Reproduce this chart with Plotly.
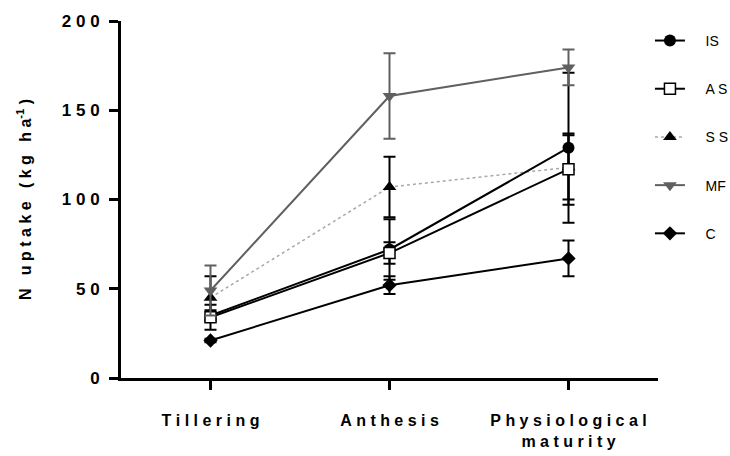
import plotly.graph_objects as go

NB = "\u00a0"

def sp(s, gap=NB):
    # letter-spaced text
    out = []
    for w in s.split(" "):
        out.append(gap.join(list(w)))
    return (NB * 3).join(out)

stages = ["Tillering", "Anthesis", "Physiological maturity"]
stage_labels = [sp("Tillering"), sp("Anthesis"), sp("Physiological") + "<br>" + sp("maturity")]

series_names = ["IS", "A S", "S S", "MF", "C"]
IS_vals = [35, 72, 129]
IS_err = [3, 17, 42]
AS_vals = [34, 70, 117]
AS_err = [7, 6, 20]
SS_vals = [45, 107, 118]
SS_err = [12, 17, 18]
MF_vals = [49, 158, 174]
MF_err = [14, 24, 10]
C_vals = [21, 52, 67]
C_err = [1, 5, 10]

y_ticks = [0, 50, 100, 150, 200]

BLACK = "#000000"
GRAY = "#606060"
LIGHT = "#a8a8a8"

x = [0, 1, 2]

specs = [
    ("SS", SS_vals, SS_err, dict(color=LIGHT, width=1.5, dash="dot"), dict(symbol="triangle-up", color=BLACK, size=12), BLACK),
    ("IS", IS_vals, IS_err, dict(color=BLACK, width=2), dict(symbol="circle", color=BLACK, size=12), BLACK),
    ("AS", AS_vals, AS_err, dict(color=BLACK, width=2), dict(symbol="square", color="white", size=11, line=dict(color=BLACK, width=1.5)), BLACK),
    ("MF", MF_vals, MF_err, dict(color=GRAY, width=2), dict(symbol="triangle-down", color=GRAY, size=12), GRAY),
    ("C", C_vals, C_err, dict(color=BLACK, width=2), dict(symbol="diamond", color=BLACK, size=11), BLACK),
]
legend_rank = {"IS": 1, "AS": 2, "SS": 3, "MF": 4, "C": 5}
display = {"IS": "IS", "AS": "A S", "SS": "S S", "MF": "MF", "C": "C"}

fig = go.Figure()
for key, vals, err, line, marker, ecol in specs:
    fig.add_trace(go.Scatter(
        x=x, y=vals, mode="lines+markers",
        name=NB * 4 + display[key],
        line=line, marker=marker,
        error_y=dict(type="data", array=err, visible=True, color=ecol, thickness=2, width=6),
        legendrank=legend_rank[key], legendgroup=key,
    ))

fig.update_layout(
    width=730, height=456,
    margin=dict(l=121, r=72, t=21, b=78, autoexpand=False),
    plot_bgcolor="white", paper_bgcolor="white",
    font=dict(family="Liberation Sans, Arial, sans-serif", color="black"),
    showlegend=True,
    legend=dict(
        x=0.985, xanchor="left", y=0.989, yanchor="top",
        font=dict(size=14, color="black"),
        tracegroupgap=27, bgcolor="rgba(0,0,0,0)",
    ),
    xaxis=dict(
        range=[-0.5, 2.5], tickmode="array", tickvals=x, ticktext=stage_labels,
        showline=True, linecolor="black", linewidth=3,
        ticks="outside", ticklen=9, tickwidth=3, tickcolor="black",
        showgrid=False, zeroline=False, automargin=False,
        tickfont=dict(size=16, color="black", weight="bold"),
        ticklabelstandoff=17,
    ),
    yaxis=dict(
        range=[0, 200], tickmode="array", tickvals=y_ticks,
        ticktext=[sp(str(v)) for v in y_ticks],
        showline=True, linecolor="black", linewidth=3,
        ticks="outside", ticklen=9, tickwidth=3, tickcolor="black",
        showgrid=False, zeroline=False, automargin=False,
        tickfont=dict(size=17, color="black", weight="bold"),
        ticklabelstandoff=6,
        title=dict(
            text=sp("N") + NB * 3 + sp("uptake") + NB * 3 + sp("(kg") + NB * 3 + sp("ha") + "<sup>-1</sup>" + NB + ")",
            font=dict(size=16, color="black", weight="bold"),
            standoff=27,
        ),
    ),
)

fig.write_html(
    "out.html",
    config={"displayModeBar": False},
    post_script="document.body.style.margin='0';document.body.style.padding='0';document.body.style.overflow='hidden';",
)
